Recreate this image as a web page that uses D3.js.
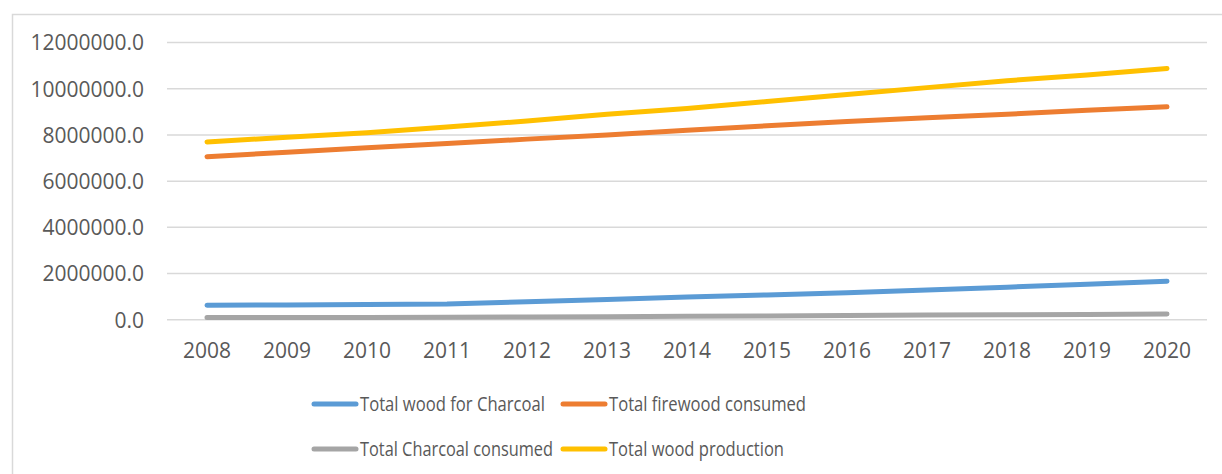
<!DOCTYPE html>
<html>
<head>
<meta charset="utf-8">
<script src="https://cdn.jsdelivr.net/npm/d3@7"></script>
<style>
  html, body { margin: 0; padding: 0; background: #fff; }
  svg { display: block; }
  text { font-family: "Open Sans", "Liberation Sans", sans-serif; fill: #595959; }
</style>
</head>
<body>
<svg id="chart" width="1222" height="474"></svg>
<script>
// Years on the category axis
const years = ["2008","2009","2010","2011","2012","2013","2014","2015","2016","2017","2018","2019","2020"];

// Series values (tonnes)
const woodForCharcoal = [630000, 640000, 660000, 680000, 780000, 880000, 980000, 1070000, 1170000, 1290000, 1410000, 1540000, 1670000];
const firewoodConsumed = [7060000, 7250000, 7450000, 7630000, 7820000, 8000000, 8200000, 8400000, 8580000, 8750000, 8900000, 9070000, 9220000];
const charcoalConsumed = [100000, 100000, 100000, 110000, 120000, 130000, 150000, 160000, 180000, 200000, 210000, 230000, 250000];
const woodProduction = [7700000, 7900000, 8100000, 8350000, 8600000, 8900000, 9150000, 9450000, 9750000, 10050000, 10350000, 10600000, 10880000];

// Y axis ticks
const yTicks = [0, 2000000, 4000000, 6000000, 8000000, 10000000, 12000000];

// Series names
const seriesNames = ["Total wood for Charcoal", "Total firewood consumed", "Total Charcoal consumed", "Total wood production"];

const series = [
  { name: seriesNames[0], values: woodForCharcoal, color: "#5B9BD5" },
  { name: seriesNames[1], values: firewoodConsumed, color: "#ED7D31" },
  { name: seriesNames[2], values: charcoalConsumed, color: "#A5A5A5" },
  { name: seriesNames[3], values: woodProduction, color: "#FFC000" }
];

const svg = d3.select("#chart");

// Outer chart frame (top and left edges show inside the viewport)
svg.append("rect")
  .attr("x", 12.5).attr("y", 14.5)
  .attr("width", 1230).attr("height", 480)
  .attr("fill", "none")
  .attr("stroke", "#D9D9D9")
  .attr("stroke-width", 1.5);

const plot = { left: 167, right: 1207, top: 42.6, bottom: 319.7 };

const x = d3.scaleBand().domain(years).range([plot.left, plot.right]);
const y = d3.scaleLinear().domain([0, 12000000]).range([plot.bottom, plot.top]);

// Horizontal gridlines
svg.append("g")
  .selectAll("line")
  .data(yTicks)
  .join("line")
  .attr("x1", plot.left).attr("x2", plot.right)
  .attr("y1", d => y(d)).attr("y2", d => y(d))
  .attr("stroke", "#D9D9D9")
  .attr("stroke-width", 1.5);

// Y axis labels
const yAxis = d3.axisLeft(y).tickValues(yTicks).tickSize(0).tickPadding(0)
  .tickFormat(d => d3.format(".1f")(d));
svg.append("g")
  .attr("transform", `translate(${144},0)`)
  .call(yAxis)
  .call(g => g.select(".domain").remove())
  .call(g => g.selectAll("text")
    .attr("font-size", 21)
    .attr("font-family", null)
    .attr("fill", "#595959")
    .attr("dy", "0.35em")
    .attr("x", 0));

// X axis labels
const xAxis = d3.axisBottom(x).tickSize(0).tickPadding(0);
svg.append("g")
  .attr("transform", `translate(0,${plot.bottom})`)
  .call(xAxis)
  .call(g => g.select(".domain").remove())
  .call(g => g.selectAll("text")
    .attr("font-size", 21)
    .attr("font-family", null)
    .attr("fill", "#595959")
    .attr("y", 38)
    .attr("dy", 0));

// Series lines
const line = d3.line()
  .x((d, i) => x(years[i]) + x.bandwidth() / 2)
  .y(d => y(d));

svg.append("g")
  .selectAll("path")
  .data(series)
  .join("path")
  .attr("d", d => line(d.values))
  .attr("fill", "none")
  .attr("stroke", d => d.color)
  .attr("stroke-width", 5)
  .attr("stroke-linecap", "round")
  .attr("stroke-linejoin", "round");

// Legend: two rows, two columns (swatch position and label width per entry)
const legendLayout = [
  { lx: 314, ly: 404, w: 185 },
  { lx: 563, ly: 404, w: 197 },
  { lx: 314, ly: 449, w: 193 },
  { lx: 563, ly: 449, w: 175 }
];
const legend = svg.append("g")
  .selectAll("g")
  .data(series)
  .join("g")
  .attr("transform", (d, i) => `translate(${legendLayout[i].lx},${legendLayout[i].ly})`);

legend.append("line")
  .attr("x1", 0).attr("x2", 42)
  .attr("y1", 0).attr("y2", 0)
  .attr("stroke", d => d.color)
  .attr("stroke-width", 5)
  .attr("stroke-linecap", "round");

legend.append("text")
  .attr("x", 46)
  .attr("y", 0)
  .attr("dy", "0.36em")
  .attr("font-size", 20)
  .attr("textLength", (d, i) => legendLayout[i].w)
  .attr("lengthAdjust", "spacingAndGlyphs")
  .text(d => d.name);
</script>
</body>
</html>
